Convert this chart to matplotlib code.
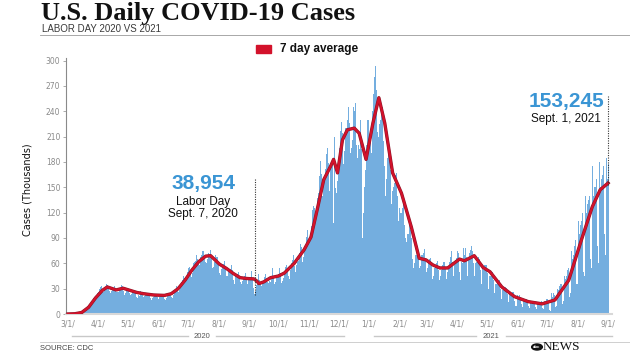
"""
U.S. Daily COVID-19 Cases - Labor Day 2020 vs 2021
Run: python plot.py
"""

import matplotlib
matplotlib.use("Agg")
import matplotlib.pyplot as plt
import matplotlib.patheffects as pe
import pandas as pd
from matplotlib.lines import Line2D
from matplotlib.patches import Rectangle, Circle

# daily new cases (thousands), one row per week, Sun..Sat, starting 2020-03-01
daily_weeks = [
    [0, 0, 0.1, 0.1, 0.1, 0.2, 0.2],
    [0.3, 0.4, 0.5, 0.6, 0.7, 1.0, 1.2],
    [1.5, 2.5, 3.5, 4.5, 6, 7.5, 9],
    [9.5, 10.5, 11, 13, 17, 19, 20],
    [20, 22, 25, 26, 29, 32, 33],
    [27, 26, 30, 31, 35, 34, 31],
    [27, 25, 27, 29, 30, 33, 30],
    [26, 26, 26, 29, 31, 34, 33],
    [27, 23, 25, 28, 30, 31, 29],
    [25, 22, 24, 26, 28, 27, 25],
    [20, 19, 22, 21, 27, 25, 24],
    [20, 21, 22, 23, 25, 24, 22],
    [19, 17, 19, 20, 22, 24, 24],
    [20, 18, 20, 21, 22, 24, 22],
    [18, 17, 19, 22, 23, 25, 25],
    [20, 19, 23, 26, 27, 33, 31],
    [26, 28, 35, 38, 40, 45, 43],
    [41, 40, 45, 50, 55, 56, 48],
    [44, 48, 60, 62, 63, 70, 65],
    [60, 58, 67, 70, 75, 74, 66],
    [62, 60, 65, 72, 71, 76, 67],
    [55, 56, 62, 70, 68, 68, 60],
    [48, 46, 53, 54, 59, 63, 55],
    [45, 45, 50, 52, 53, 58, 52],
    [40, 36, 45, 47, 47, 50, 45],
    [38, 36, 39, 43, 45, 48, 42],
    [35, 32, 40, 41, 44, 51, 43],
    [31, 24, 27, 34, 35, 47, 40],
    [35, 33, 38, 39, 44, 47, 43],
    [38, 37, 39, 38, 44, 55, 45],
    [36, 38, 43, 43, 47, 54, 49],
    [37, 39, 43, 50, 56, 58, 52],
    [45, 42, 52, 60, 64, 70, 57],
    [50, 58, 61, 63, 72, 83, 79],
    [62, 67, 74, 81, 91, 100, 86],
    [80, 86, 94, 104, 123, 128, 126],
    [110, 118, 137, 143, 163, 181, 166],
    [140, 154, 162, 172, 189, 197, 179],
    [146, 172, 176, 182, 108, 210, 149],
    [143, 157, 182, 197, 217, 227, 214],
    [178, 193, 220, 220, 230, 245, 226],
    [190, 196, 206, 245, 240, 250, 200],
    [185, 200, 195, 230, 195, 90, 120],
    [150, 170, 200, 230, 230, 150, 200],
    [210, 190, 240, 260, 280, 293, 265],
    [215, 210, 225, 230, 238, 245, 205],
    [175, 140, 160, 185, 190, 190, 170],
    [130, 145, 150, 155, 165, 167, 140],
    [110, 125, 120, 120, 125, 135, 105],
    [90, 85, 95, 95, 105, 100, 90],
    [65, 55, 60, 70, 70, 80, 70],
    [55, 57, 70, 70, 72, 77, 66],
    [50, 55, 60, 65, 65, 66, 58],
    [42, 45, 55, 58, 60, 63, 52],
    [40, 45, 52, 58, 62, 62, 55],
    [42, 50, 55, 62, 67, 75, 62],
    [45, 58, 64, 66, 75, 72, 50],
    [40, 62, 60, 78, 70, 78, 68],
    [45, 65, 72, 76, 80, 75, 60],
    [45, 60, 62, 64, 68, 65, 52],
    [35, 55, 52, 58, 58, 58, 48],
    [30, 45, 45, 48, 50, 50, 40],
    [25, 35, 36, 38, 38, 40, 30],
    [18, 28, 28, 30, 32, 31, 24],
    [14, 24, 22, 24, 26, 26, 15],
    [10, 9, 22, 18, 22, 20, 12],
    [8, 17, 14, 17, 18, 16, 9],
    [7, 15, 12, 15, 15, 14, 8],
    [6, 14, 11, 14, 14, 15, 7],
    [6, 15, 12, 18, 18, 13, 5],
    [4, 6, 25, 20, 25, 22, 8],
    [10, 30, 28, 33, 35, 36, 12],
    [15, 45, 42, 45, 52, 55, 20],
    [25, 75, 65, 70, 80, 88, 35],
    [35, 110, 95, 105, 110, 120, 50],
    [45, 140, 120, 130, 135, 140, 65],
    [55, 175, 140, 150, 150, 160, 80],
    [60, 180, 150, 160, 165, 175, 95],
    [70, 185, 160, 178],
]
daily_cases = [v for week in daily_weeks for v in week]

# 7 day average (thousands)
avg_dates = [
    "2020-03-01", "2020-03-08", "2020-03-15", "2020-03-22", "2020-03-29",
    "2020-04-05", "2020-04-10", "2020-04-19", "2020-04-26", "2020-05-03",
    "2020-05-10", "2020-05-17", "2020-05-27", "2020-06-07", "2020-06-14",
    "2020-06-21", "2020-06-28", "2020-07-05", "2020-07-12", "2020-07-19",
    "2020-07-24", "2020-08-02", "2020-08-09", "2020-08-16", "2020-08-23",
    "2020-08-30", "2020-09-06", "2020-09-09", "2020-09-11", "2020-09-16",
    "2020-09-23", "2020-10-01", "2020-10-07", "2020-10-17", "2020-10-27",
    "2020-11-03", "2020-11-10", "2020-11-16", "2020-11-23", "2020-11-26",
    "2020-11-30", "2020-12-05", "2020-12-10", "2020-12-17", "2020-12-22",
    "2020-12-29", "2021-01-05", "2021-01-11", "2021-01-17", "2021-01-25",
    "2021-02-03", "2021-02-13", "2021-02-21", "2021-02-28", "2021-03-07",
    "2021-03-14", "2021-03-22", "2021-04-03", "2021-04-08", "2021-04-18",
    "2021-04-27", "2021-05-04", "2021-05-16", "2021-05-29", "2021-06-12",
    "2021-06-26", "2021-07-09", "2021-07-23", "2021-08-05", "2021-08-16",
    "2021-08-24", "2021-09-01",
]
avg_values = [
    0, 0.3, 1.8, 8, 19,
    28, 32, 28.5, 30.5, 28,
    25.5, 24, 22.5, 22, 24,
    30, 40, 52, 62, 68.5,
    69, 59, 54, 48, 43,
    42, 41.5, 39, 36, 38,
    43, 45, 48.5, 60, 76,
    91, 127, 159, 175, 183,
    167, 206, 218, 220, 214,
    183, 226, 256, 226, 167,
    143, 103, 66, 64, 58,
    54.5, 54.5, 65, 63, 69,
    55, 50, 32, 20.5, 14.6,
    12, 16.6, 40, 88, 127,
    147, 155,
]

tick_dates = pd.date_range("2020-03-01", "2021-09-01", freq="MS")
tick_labels = [f"{d.month}/1/" for d in tick_dates]
y_ticks = [0, 30, 60, 90, 120, 150, 180, 210, 240, 270, 300]

W, H = 630, 354


def fx(px):
    return px / W


def fy(py):
    return 1 - py / H


fig = plt.figure(figsize=(6.3, 3.54), dpi=100)
fig.patch.set_facecolor("white")

ax = fig.add_axes([fx(66), fy(314), fx(612) - fx(66), fy(58) - fy(314)])
days = pd.date_range("2020-03-01", periods=len(daily_cases), freq="D")
ax.bar(days, daily_cases, width=1.0, color="#74aedf", linewidth=0, zorder=1)
ax.plot(pd.to_datetime(avg_dates), avg_values, color="#d3122b", lw=1.6,
        solid_joinstyle="round", zorder=3,
        path_effects=[pe.Stroke(linewidth=2.4, foreground="#8e1326"), pe.Normal()])

ax.set_xlim(pd.Timestamp("2020-02-28"), pd.Timestamp("2021-09-05"))
ax.set_ylim(0, 303)
ax.set_yticks(y_ticks)
ax.set_yticklabels([str(v) for v in y_ticks])
ax.set_xticks(tick_dates)
ax.set_xticklabels(tick_labels)
ax.tick_params(axis="both", labelsize=5.5, colors="#8a8a8a", length=2, width=0.5, pad=2)
ax.tick_params(axis="x", length=0, pad=4)
for side in ["top", "right"]:
    ax.spines[side].set_visible(False)
ax.spines["left"].set_color("#8a8a8a")
ax.spines["left"].set_linewidth(0.8)
ax.spines["bottom"].set_color("#d8d8d8")
ax.spines["bottom"].set_linewidth(1.5)

# annotation markers
labor_day = pd.Timestamp("2020-09-07")
last_day = pd.Timestamp("2021-09-01")
ax.vlines(labor_day, 22, 160, colors="#333333", linestyles=(0, (1, 1.2)), lw=0.8, zorder=4)
ax.vlines(last_day, 153, 258, colors="#333333", linestyles=(0, (1, 1.2)), lw=0.8, zorder=4)

# title block
fig.text(fx(41), fy(20), "U.S. Daily COVID-19 Cases", family="Liberation Serif",
         fontweight="bold", fontsize=19, color="#111111", va="baseline")
fig.text(fx(42), fy(32), "LABOR DAY 2020 VS 2021", family="Liberation Sans",
         fontsize=7, color="#3a3a3a", va="baseline")
fig.add_artist(Line2D([fx(40), fx(630)], [fy(34.5), fy(34.5)], color="#9a9a9a", lw=0.6))

# legend
fig.add_artist(Rectangle((fx(256), fy(53)), fx(15), fy(45) - fy(53), color="#d3122b",
                         transform=fig.transFigure))
fig.text(fx(280), fy(49), "7 day average", family="Liberation Sans", fontweight="bold",
         fontsize=8.5, color="#111111", va="center")

fig.text(fx(28), fy(190), "Cases (Thousands)", family=["Liberation Sans Narrow", "DejaVu Sans"],
         fontsize=7, rotation=90, va="center", ha="center", color="#111111")

# callouts
fig.text(fx(203), fy(184), "38,954", family="Liberation Sans", fontweight="bold",
         fontsize=15, color="#3a95d4", ha="center", va="center")
fig.text(fx(203), fy(202), "Labor Day", family="Liberation Sans", fontsize=8.5,
         color="#111111", ha="center", va="center")
fig.text(fx(203), fy(214), "Sept. 7, 2020", family="Liberation Sans", fontsize=8.5,
         color="#111111", ha="center", va="center")
fig.text(fx(604), fy(102), "153,245", family="Liberation Sans", fontweight="bold",
         fontsize=15, color="#3a95d4", ha="right", va="center")
fig.text(fx(601), fy(119), "Sept. 1, 2021", family="Liberation Sans", fontsize=8.5,
         color="#111111", ha="right", va="center")

# year brackets
for x0, x1 in [(72, 188), (216, 344), (374, 476), (506, 612)]:
    fig.add_artist(Line2D([fx(x0), fx(x1)], [fy(336), fy(336)], color="#c8c8c8", lw=1.0))
fig.text(fx(202), fy(336), "2020", family="Liberation Sans", fontsize=5.5,
         color="#555555", ha="center", va="center")
fig.text(fx(491), fy(336), "2021", family="Liberation Sans", fontsize=5.5,
         color="#555555", ha="center", va="center")

# footer
fig.add_artist(Line2D([fx(40), fx(630)], [fy(342), fy(342)], color="#c8c8c8", lw=0.6))
fig.text(fx(40), fy(349), "SOURCE: CDC", family="Liberation Sans", fontsize=5.5,
         color="#444444", va="center")
fig.add_artist(Circle((fx(537), fy(347)), 0.0085, transform=fig.transFigure,
                      color="#111111"))
fig.text(fx(537), fy(347.3), "abc", family="Liberation Sans", fontweight="bold",
         fontsize=3.2, color="white", ha="center", va="center")
fig.text(fx(543), fy(347), "NEWS", family="Liberation Serif", fontsize=9.5,
         color="#111111", va="center")

fig.savefig("out.png", dpi=100)
